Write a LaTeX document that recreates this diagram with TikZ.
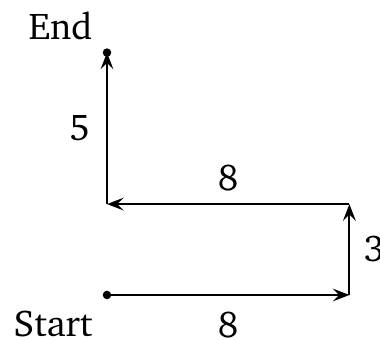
\documentclass[tikz,border=0pt]{standalone}
\usepackage[T1]{fontenc}
\usepackage{charter}
\usetikzlibrary{arrows.meta, positioning}
\tikzset{
    trajeto/.style={draw=black, line width=0.55pt, -{Stealth[length=4.7pt, width=3.6pt, inset=1.8pt]}},
    rotulo/.style={inner sep=0pt, font=\fontsize{10.5}{12}\selectfont},
    ponto/.style={circle, fill=black, inner sep=0pt, minimum size=2.4pt}
}

\begin{document}
\begin{tikzpicture}[x=0.3cm, y=0.3cm]
    \useasboundingbox (-3.531,-1.485) rectangle (9.010,9.736);

    % Pontos do percurso
    \coordinate (inicio) at (0,0);
    \coordinate (canto1) at (8,0);
    \coordinate (canto2) at (8,3);
    \coordinate (canto3) at (0,3);
    \coordinate (fim) at (0,8);

    % Percurso
    \draw[trajeto] (inicio) -- node[rotulo, below=4.5pt] (passo1) {8} (canto1);
    \draw[trajeto] (canto1) -- node[rotulo, right=3.8pt] (passo2) {3} (canto2);
    \draw[trajeto] (canto2) -- node[rotulo, above=3.3pt] (passo3) {8} (canto3);
    \draw[trajeto] (canto3) -- node[rotulo, left=4.5pt] (passo4) {5} (fim);

    % Inicio e fim
    \node[ponto] (pinicio) at (inicio) {};
    \node[ponto] (pfim) at (fim) {};
    \node[rotulo, below left=4.2pt and 3.9pt of inicio] (tinicio) {Start};
    \node[rotulo, above left=3.2pt and 3.9pt of fim] (tfim) {End};
\end{tikzpicture}
\end{document}
